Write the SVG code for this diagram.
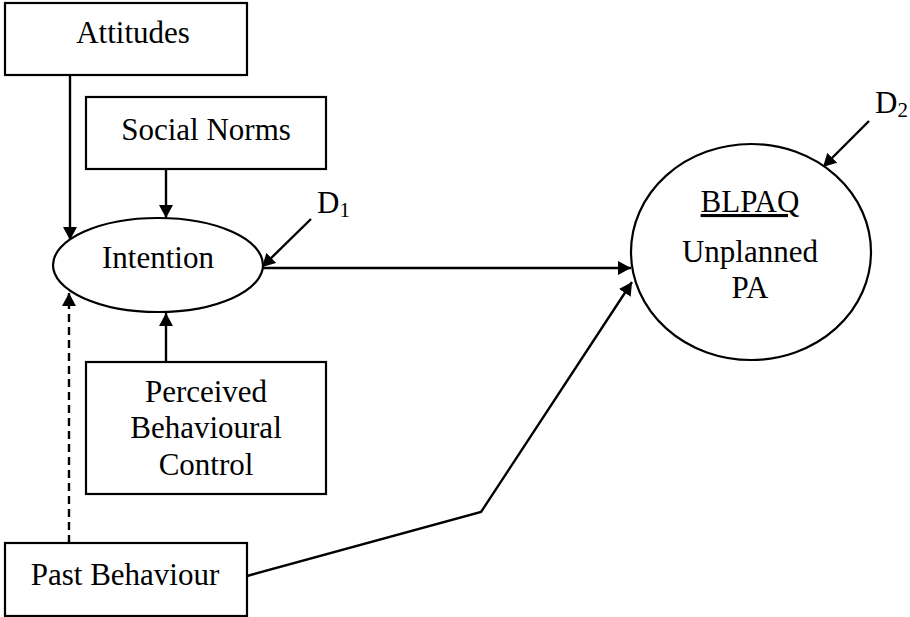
<svg xmlns="http://www.w3.org/2000/svg" width="910" height="617" viewBox="0 0 910 617">
<style>
.box{fill:#fff;stroke:#000;stroke-width:2.2}
.t{font-family:'Times New Roman','Liberation Serif','DejaVu Serif',serif;font-size:31px;fill:#000;text-anchor:middle}
.d{font-family:'Times New Roman','Liberation Serif','DejaVu Serif',serif;font-size:31px;fill:#000}
.c{fill:none;stroke:#000;stroke-width:2.4}
</style>
<defs>
<marker id="ah" viewBox="0 0 13 14" refX="13" refY="7" markerWidth="13" markerHeight="14" markerUnits="userSpaceOnUse" orient="auto">
<path d="M0,0 L13,7 L0,14 Z" fill="#000"/>
</marker>
</defs>
<rect width="910" height="617" fill="#fff"/>
<g id="connectors">
<line class="c" x1="70" y1="75" x2="70" y2="240" marker-end="url(#ah)"/>
<line class="c" x1="166" y1="169" x2="166" y2="218" marker-end="url(#ah)"/>
<line class="c" x1="166" y1="362" x2="166" y2="313" marker-end="url(#ah)"/>
<line class="c" x1="69" y1="543" x2="69" y2="293" stroke-dasharray="8,5" marker-end="url(#ah)"/>
<line class="c" x1="262" y1="268" x2="631" y2="268" marker-end="url(#ah)"/>
<polyline class="c" points="247,576 481,512 632,282" marker-end="url(#ah)"/>
<line class="c" x1="311" y1="219" x2="262" y2="267" marker-end="url(#ah)"/>
<line class="c" x1="869" y1="121" x2="823" y2="167" marker-end="url(#ah)"/>
</g>
<g id="attitudes">
<rect class="box" x="5" y="3" width="242" height="72"/>
<text class="t" x="133" y="43">Attitudes</text>
</g>
<g id="social-norms">
<rect class="box" x="86" y="97" width="240" height="72"/>
<text class="t" x="206" y="140">Social Norms</text>
</g>
<g id="intention">
<ellipse class="box" cx="158" cy="265" rx="105" ry="47"/>
<text class="t" x="158" y="268">Intention</text>
</g>
<g id="pbc">
<rect class="box" x="86" y="362" width="240" height="132"/>
<text class="t" x="206" y="402">Perceived</text>
<text class="t" x="206" y="438">Behavioural</text>
<text class="t" x="206" y="475">Control</text>
</g>
<g id="past-behaviour">
<rect class="box" x="5" y="543" width="242" height="73"/>
<text class="t" x="125" y="585">Past Behaviour</text>
</g>
<g id="blpaq">
<ellipse class="box" cx="751" cy="252" rx="120" ry="108"/>
<text class="t" x="750" y="212" text-decoration="underline">BLPAQ</text>
<text class="t" x="750" y="262">Unplanned</text>
<text class="t" x="750" y="298">PA</text>
</g>
<g id="d1">
<text class="d" x="317" y="213">D<tspan font-size="21" dy="4">1</tspan></text>
</g>
<g id="d2">
<text class="d" x="875" y="113">D<tspan font-size="21" dy="4">2</tspan></text>
</g>
</svg>
